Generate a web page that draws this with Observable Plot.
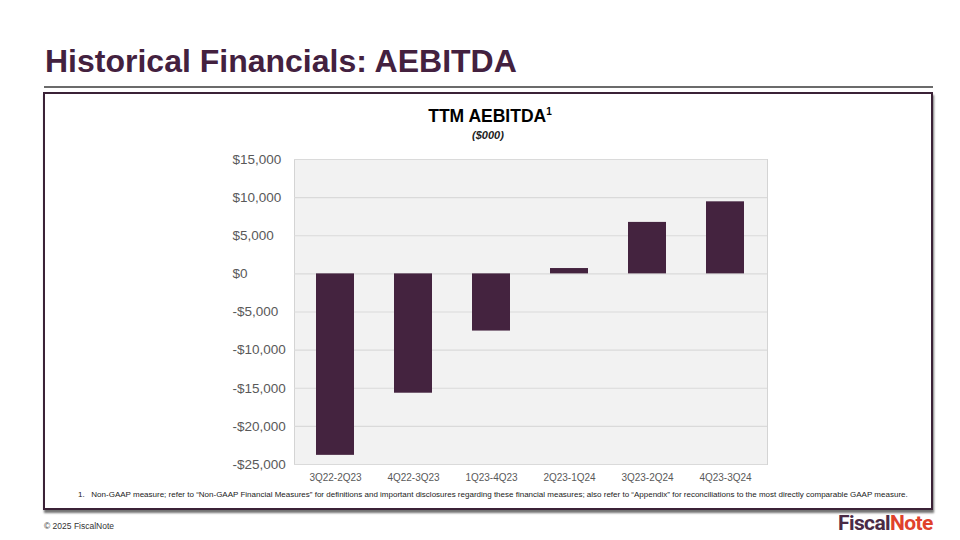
<!DOCTYPE html>
<html>
<head>
<meta charset="utf-8">
<script src="https://cdn.jsdelivr.net/npm/d3@7"></script>
<script src="https://cdn.jsdelivr.net/npm/@observablehq/plot@0.6"></script>
<style>
  html, body { margin: 0; padding: 0; background: #fff; }
  body { width: 960px; height: 540px; position: relative; overflow: hidden; font-family: "Liberation Sans", Arial, sans-serif; }
  #title { position: absolute; left: 45px; top: 43px; font-size: 32px; font-weight: bold; color: #43213f; white-space: nowrap; }
  #rule { position: absolute; left: 44px; top: 86px; width: 889px; height: 2px; background: #6b6b6b; }
  #box { position: absolute; left: 43px; top: 92px; width: 886px; height: 414px; border: 2px solid #3b2237; box-shadow: 1px 3px 2px rgba(0,0,0,0.55); background: #fff; }
  #ctitle { position: absolute; left: 388px; width: 204px; top: 106px; text-align: center; font-size: 17.5px; font-weight: bold; color: #000; }
  #ctitle sup { font-size: 10px; vertical-align: 0; position: relative; top: -7px; }
  #csub { position: absolute; left: 388px; width: 200px; top: 129px; text-align: center; font-size: 11px; font-style: italic; font-weight: bold; color: #222; }
  #chart { position: absolute; left: 200px; top: 145px; }
  #note { position: absolute; left: 78px; top: 490px; font-size: 8px; color: #222; white-space: nowrap; }
  #copy { position: absolute; left: 44px; top: 521px; font-size: 8.5px; color: #333; white-space: nowrap; }
  #logo { position: absolute; left: 838px; top: 511px; font-size: 21px; font-weight: bold; white-space: nowrap; letter-spacing: -0.6px; font-family: "Roboto", "Liberation Sans", sans-serif; }
  #logo .a { color: #4a2a45; }
  #logo .b { color: #e0412b; }
</style>
</head>
<body>
<div id="title">Historical Financials: AEBITDA</div>
<div id="rule"></div>
<div id="box"></div>
<div id="ctitle">TTM AEBITDA<sup>1</sup></div>
<div id="csub">($000)</div>
<div id="chart"></div>
<div id="note">1.&nbsp;&nbsp; Non-GAAP measure; refer to “Non-GAAP Financial Measures” for definitions and important disclosures regarding these financial measures; also refer to “Appendix” for reconciliations to the most directly comparable GAAP measure.</div>
<div id="copy">© 2025 FiscalNote</div>
<div id="logo"><span class="a">Fiscal</span><span class="b">Note</span></div>
<script>
const periods = ["3Q22-2Q23", "4Q22-3Q23", "1Q23-4Q23", "2Q23-1Q24", "3Q23-2Q24", "4Q23-3Q24"];
const aebitda = [-23800, -15650, -7500, 700, 6750, 9450];
const yTicks = [15000, 10000, 5000, 0, -5000, -10000, -15000, -20000, -25000];

const data = periods.map((p, i) => ({period: p, value: aebitda[i]}));
const fmt = v => (v < 0 ? "-$" : "$") + d3.format(",")(Math.abs(v));

const chart = Plot.plot({
  width: 600,
  height: 350,
  marginLeft: 94,
  marginRight: 33,
  marginTop: 14,
  marginBottom: 31,
  style: {fontFamily: "'Liberation Sans', Arial, sans-serif", background: "transparent", overflow: "visible"},
  x: {domain: periods, paddingInner: 0.51, paddingOuter: 0.255, label: null},
  y: {domain: [-25000, 15000], label: null},
  marks: [
    Plot.frame({fill: "#f2f2f2", stroke: "#d4d4d4"}),
    Plot.gridY(yTicks, {stroke: "#dadada", strokeOpacity: 1, strokeWidth: 1.2}),
    Plot.barY(data, {x: "period", y: "value", fill: "#44233f"}),
    Plot.axisY(yTicks, {anchor: "left", tickSize: 0, tickPadding: 0, textAnchor: "start", dx: -62, tickFormat: fmt, fontSize: 13.5, fill: "#595959", label: null}),
    Plot.axisX({anchor: "bottom", tickSize: 0, tickPadding: 9, fontSize: 10, fill: "#595959", label: null})
  ]
});
document.getElementById("chart").appendChild(chart);
</script>
</body>
</html>
